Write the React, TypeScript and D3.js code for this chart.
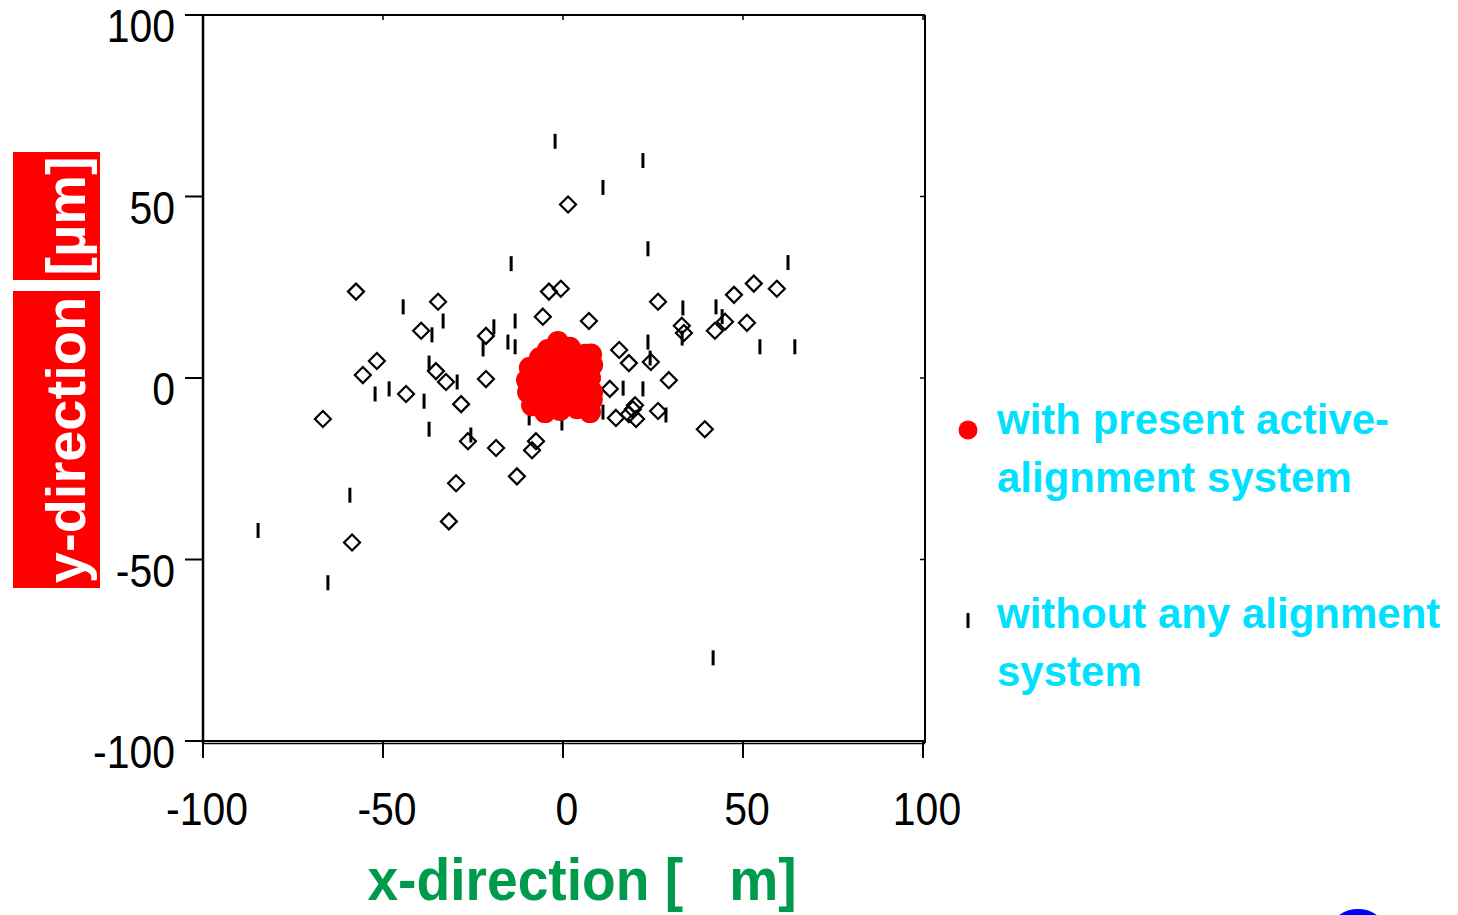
import React from "react";
import * as d3 from "d3";

// ---- data ----
const xTicks = [-100, -50, 0, 50, 100];
const yTicks = [-100, -50, 0, 50, 100];

// with present active-alignment system (red dots)
const activeX = [-1.4, 1.9, 6.1, 8.1, 7.5, 8.1, 6.9, 7.5, 3.9, -0.8, -5.0, -8.6, -9.7, -10.0, -9.2, -6.4, -4.2, -2.2, 0.6, 3.3, -3.6, -0.8, -6.4, 1.9, 4.7, 8.0, 0.0, -4.0, 4.0, -6.0, 2.0, 5.0, -2.0, 7.8, -7.5, 0.5, 3.0, -3.0];
const activeY = [9.9, 8.3, 6.4, 3.6, 0.0, -3.9, -7.5, -9.4, -8.3, -8.8, -9.4, -7.5, -3.9, -0.6, 2.8, 5.5, 7.7, 3.6, 0.8, -1.9, -1.9, -4.7, -0.6, 4.4, 2.2, -6.0, 6.0, 4.0, 5.0, -5.0, -5.0, -4.0, -8.0, 6.5, 1.5, -2.5, 1.0, 0.5];

// without any alignment system (vertical bars)
const noneX = [-2.2, 22.2, 11.1, 23.6, -14.4, 62.5, -44.4, -33.3, -36.4, -19.2, -13.3, -22.2, -15.3, -13.3, -37.2, -29.4, -52.2, -48.3, -38.6, -37.2, -25.6, -9.4, -0.3, 23.6, 24.2, 16.7, 22.2, 11.1, 28.6, 33.3, 42.5, 44.2, 33.1, 54.7, 64.4, -59.2, -84.7, -65.3, 41.7];
const noneY = [65.2, 59.9, 52.5, 35.6, 31.5, 31.8, 19.6, 15.7, 11.9, 14.1, 15.7, 8.0, 9.9, 8.6, 4.1, -1.1, -4.4, -3.0, -6.4, -14.1, -15.7, -11.0, -12.4, 9.9, 5.5, -2.8, -3.0, -9.4, -10.2, 19.3, 19.6, 16.9, 11.0, 8.6, 8.6, -32.3, -42.0, -56.4, -77.1];

// third series (open diamonds)
const diamondX = [-57.5, -34.7, 1.4, -3.9, -0.6, -39.4, -51.7, -55.6, -66.7, -43.6, -35.3, -32.5, -28.3, -21.4, -21.4, -5.6, 7.2, -26.4, -18.6, -29.7, -12.8, -8.6, -7.5, -31.7, -58.6, 26.4, 15.6, 18.3, 24.4, 29.4, 13.0, 14.7, 18.3, 20.0, 20.3, 26.4, 39.4, 33.0, 33.6, 42.2, 45.0, 47.5, 51.1, 53.0, 59.4, 19.4];
const diamondY = [23.8, 21.0, 47.8, 23.8, 24.6, 13.0, 4.7, 0.8, -11.3, -4.4, 1.9, -1.1, -7.2, -0.3, 11.6, 16.9, 15.7, -17.4, -19.3, -29.0, -27.1, -19.9, -17.4, -39.5, -45.3, 21.0, 7.7, 4.1, 4.4, -0.6, -3.0, -11.0, -10.0, -7.5, -11.3, -9.1, -14.1, 14.4, 12.4, 13.0, 15.5, 22.9, 15.2, 26.0, 24.6, -8.6];

const legendLabels = [
  ["with present active-", "alignment system"],
  ["without any alignment", "system"],
];
const xTitle = "x-direction [   m]";
const yTitleA = "y-direction";
const yTitleB = "[\u00b5m]";

export default function App() {
  const x = d3.scaleLinear().domain([-100, 100]).range([203, 923]);
  const y = d3.scaleLinear().domain([-100, 100]).range([741, 15]);
  const x0 = x(-100), x1 = x(100), yTop = y(100), yBot = y(-100);
  const tickFont = "'Liberation Sans', Arial, sans-serif";
  const dSize = 8;
  const diamondPath = (cx: number, cy: number) =>
    `M${cx},${cy - dSize}L${cx + dSize},${cy}L${cx},${cy + dSize}L${cx - dSize},${cy}Z`;

  return (
    <div style={{ position: "absolute", left: 0, top: 0 }}>
      <svg width={1458} height={915} style={{ display: "block", background: "#fff" }}>
        {/* frame */}
        <line x1={x0} y1={yTop} x2={x0} y2={yBot + 2} stroke="#000" strokeWidth={2.5} />
        <line x1={x0} y1={yTop} x2={x1 + 2} y2={yTop} stroke="#000" strokeWidth={2} />
        <line x1={x1 + 2} y1={yTop} x2={x1 + 2} y2={yBot + 2} stroke="#000" strokeWidth={2} />
        <line x1={x0} y1={yBot} x2={x1 + 2} y2={yBot} stroke="#000" strokeWidth={2} />
        <line x1={x0} y1={yBot + 2.5} x2={x1 + 2} y2={yBot + 2.5} stroke="#000" strokeWidth={1.5} />

        {/* y ticks */}
        {yTicks.map((t) => (
          <g key={"yt" + t}>
            <line x1={x0 - 18} x2={x0} y1={y(t)} y2={y(t)} stroke="#000" strokeWidth={2} />
            <line x1={x1 - 3} x2={x1 + 2} y1={y(t)} y2={y(t)} stroke="#000" strokeWidth={1.5} />
            <g transform={`translate(${x0 - 28},${y(t) + 27}) scale(0.89,1)`}>
              <text textAnchor="end" fontFamily={tickFont} fontSize={46} fill="#000">
                {t}
              </text>
            </g>
          </g>
        ))}

        {/* x ticks */}
        {xTicks.map((t) => (
          <g key={"xt" + t}>
            <line x1={x(t)} x2={x(t)} y1={yBot} y2={yBot + 17} stroke="#000" strokeWidth={2} />
            <line x1={x(t)} x2={x(t)} y1={yTop} y2={yTop + 5} stroke="#000" strokeWidth={1.5} />
            <g transform={`translate(${x(t) + 4},${yBot + 84}) scale(0.89,1)`}>
              <text textAnchor="middle" fontFamily={tickFont} fontSize={46} fill="#000">
                {t}
              </text>
            </g>
          </g>
        ))}

        {/* diamonds */}
        {diamondX.map((v, i) => (
          <path key={"d" + i} d={diamondPath(x(v), y(diamondY[i]))} fill="none" stroke="#000" strokeWidth={2.2} />
        ))}

        {/* bars: without any alignment system */}
        {noneX.map((v, i) => (
          <line key={"b" + i} x1={x(v)} x2={x(v)} y1={y(noneY[i]) - 7.5} y2={y(noneY[i]) + 7.5} stroke="#000" strokeWidth={3} />
        ))}

        {/* red dots: with present active-alignment system */}
        {activeX.map((v, i) => (
          <circle key={"r" + i} cx={x(v)} cy={y(activeY[i])} r={11} fill="#ff0000" />
        ))}

        {/* y axis title */}
        <rect x={13} y={152} width={87} height={128} fill="#ff0000" />
        <rect x={13} y={291} width={87} height={297} fill="#ff0000" />
        <text transform="translate(85,216) rotate(-90)" textAnchor="middle" fontFamily={tickFont} fontWeight="bold" fontSize={56} fill="#fff">
          {yTitleB}
        </text>
        <text transform="translate(85,440) rotate(-90)" textAnchor="middle" fontFamily={tickFont} fontWeight="bold" fontSize={56} fill="#fff">
          {yTitleA}
        </text>

        {/* x axis title */}
        <g transform="translate(582,900) scale(0.92,1)">
          <text textAnchor="middle" fontFamily={tickFont} fontWeight="bold" fontSize={60} fill="#009a4c" style={{ whiteSpace: "pre" }} xmlSpace="preserve">
            {xTitle}
          </text>
        </g>

        {/* legend */}
        <circle cx={968} cy={430} r={9.5} fill="#ff0000" />
        <line x1={968} x2={968} y1={613} y2={628} stroke="#000" strokeWidth={3} />
        {legendLabels.map((lines, i) => (
          <text key={"lg" + i} fontFamily={tickFont} fontWeight="bold" fontSize={42} fill="#00e1ff">
            {lines.map((ln, j) => (
              <tspan key={j} x={997} y={(i === 0 ? 434 : 628) + j * 58}>
                {ln}
              </tspan>
            ))}
          </text>
        ))}

        {/* partial blue shape at bottom right */}
        <ellipse cx={1358} cy={927} rx={25} ry={18} fill="#0000ff" />
      </svg>
    </div>
  );
}
